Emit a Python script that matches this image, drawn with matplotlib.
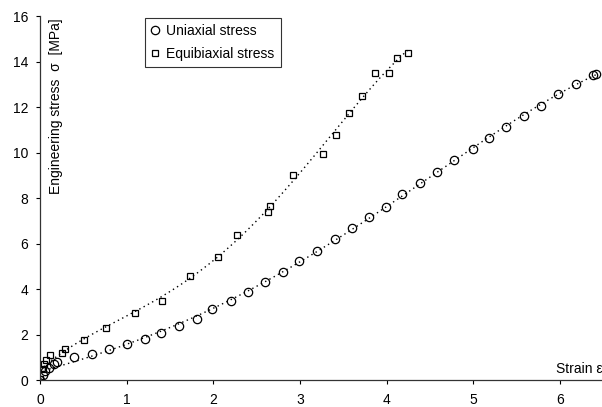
import numpy as np
import matplotlib
matplotlib.use('Agg')
import matplotlib.pyplot as plt

plt.rcParams['font.family'] = ['Liberation Sans', 'DejaVu Sans']

# uniaxial test, strain vs engineering stress [MPa]
uni_strain = [0.0, 0.03, 0.06, 0.1, 0.16, 0.2, 0.39, 0.6, 0.8, 1.0, 1.21, 1.4, 1.6, 1.81,
              1.99, 2.2, 2.4, 2.6, 2.8, 2.99, 3.19, 3.4, 3.6, 3.8, 3.99, 4.18, 4.38,
              4.58, 4.78, 4.99, 5.18, 5.38, 5.58, 5.78, 5.98, 6.18, 6.38, 6.41]
uni_stress = [0.0, 0.22, 0.4, 0.55, 0.72, 0.8, 1.0, 1.16, 1.36, 1.58, 1.8, 2.08, 2.39, 2.7,
              3.12, 3.49, 3.88, 4.29, 4.75, 5.23, 5.68, 6.18, 6.67, 7.15, 7.62, 8.16, 8.67,
              9.14, 9.67, 10.15, 10.65, 11.13, 11.62, 12.07, 12.56, 13.0, 13.41, 13.45]

# equibiaxial test
equi_strain = [0.0, 0.04, 0.05, 0.07, 0.12, 0.25, 0.29, 0.51, 0.76, 1.1, 1.41, 1.73, 2.05,
               2.27, 2.63, 2.65, 2.92, 3.26, 3.42, 3.57, 3.71, 3.86, 4.03, 4.12, 4.24]
equi_stress = [0.03, 0.5, 0.7, 0.88, 1.1, 1.2, 1.35, 1.76, 2.3, 2.96, 3.49, 4.59, 5.42,
               6.37, 7.37, 7.65, 9.01, 9.93, 10.77, 11.75, 12.48, 13.51, 13.48, 14.17, 14.39]

fig = plt.figure(figsize=(6.02, 4.07), dpi=100)
ax = fig.add_axes([0.0664, 0.0663, 0.936, 0.894])

# dotted fit curves
for xs, ys in [(uni_strain, uni_stress), (equi_strain, equi_stress)]:
    xs = np.array(xs)
    ys = np.array(ys)
    coef = np.polyfit(xs, ys, 4)
    xf = np.linspace(0, xs.max(), 200)
    ax.plot(xf, np.polyval(coef, xf), linestyle=(0, (1, 2.5)), color='k', linewidth=1.0)

ax.plot(uni_strain, uni_stress, 'o', markersize=6, markerfacecolor='none',
        markeredgecolor='k', markeredgewidth=0.9, label='Uniaxial stress')
ax.plot(equi_strain, equi_stress, 's', markersize=4.2, markerfacecolor='none',
        markeredgecolor='k', markeredgewidth=0.9, label='Equibiaxial stress')

ax.set_xlim(0, 6.5)
ax.set_ylim(0, 16)
ax.set_xticks(range(0, 7))
ax.set_yticks(range(0, 17, 2))
ax.spines['top'].set_visible(False)
ax.spines['right'].set_visible(False)
for s in ['left', 'bottom']:
    ax.spines[s].set_color('#333333')
    ax.spines[s].set_linewidth(0.9)
ax.tick_params(direction='out', length=3, width=0.8, labelsize=10)
ax.tick_params(axis='x', pad=6.5)
ax.tick_params(axis='y', pad=5.5)

ax.text(0.029, 0.995, 'Engineering stress  \u03c3  [MPa]', transform=ax.transAxes,
        rotation=90, ha='center', va='top', fontsize=10)
ax.text(0.998, 0.02, 'Strain \u03b5', transform=ax.transAxes,
        ha='right', va='baseline', fontsize=10)

leg = ax.legend(loc='upper left', bbox_to_anchor=(0.186, 0.995), fontsize=10,
                frameon=True, fancybox=False, edgecolor='k', handlelength=0.6,
                handletextpad=0.5, borderpad=0.45, labelspacing=0.6, borderaxespad=0)
leg.get_frame().set_linewidth(0.8)

fig.savefig('out.png', dpi=100)
